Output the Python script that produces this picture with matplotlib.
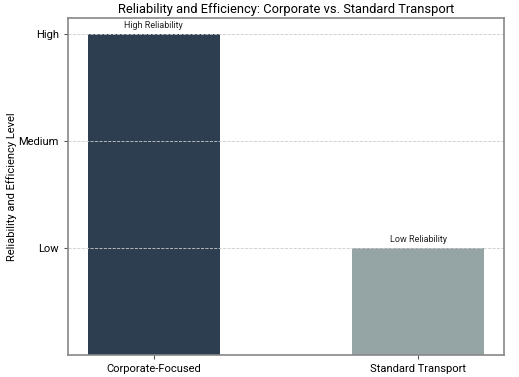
import matplotlib.pyplot as plt

categories = ["Corporate-Focused", "Standard Transport"]
levels = [3, 1]
annotations = ["High Reliability", "Low Reliability"]
level_ticks = [1, 2, 3]
level_labels = ["Low", "Medium", "High"]
colors = ["#2c3e50", "#95a5a6"]

plt.rcParams["font.family"] = ["Roboto", "DejaVu Sans"]

fig = plt.figure(figsize=(5.19, 3.77), dpi=100)
ax = fig.add_axes([0.131, 0.058, 0.840, 0.894])

bars = ax.bar(categories, levels, width=0.5, color=colors)
for bar, text in zip(bars, annotations):
    ax.annotate(text, (bar.get_x() + bar.get_width() / 2, bar.get_height()),
                xytext=(0, 3), textcoords="offset points",
                ha="center", va="bottom", fontsize=6.5, color="#222222")

ax.set_yticks(level_ticks)
ax.set_yticklabels(level_labels)
ax.set_ylim(0, 3.15)
ax.set_ylabel("Reliability and Efficiency Level", fontsize=8, labelpad=1)
ax.set_title("Reliability and Efficiency: Corporate vs. Standard Transport", fontsize=9.3, pad=4)
ax.tick_params(labelsize=8, length=3, color="#555555")
ax.yaxis.grid(True, linestyle="--", linewidth=0.6, color="#cccccc")
for spine in ax.spines.values():
    spine.set_color("#888888")
    spine.set_linewidth(1.2)

fig.savefig("out.png", dpi=100)
